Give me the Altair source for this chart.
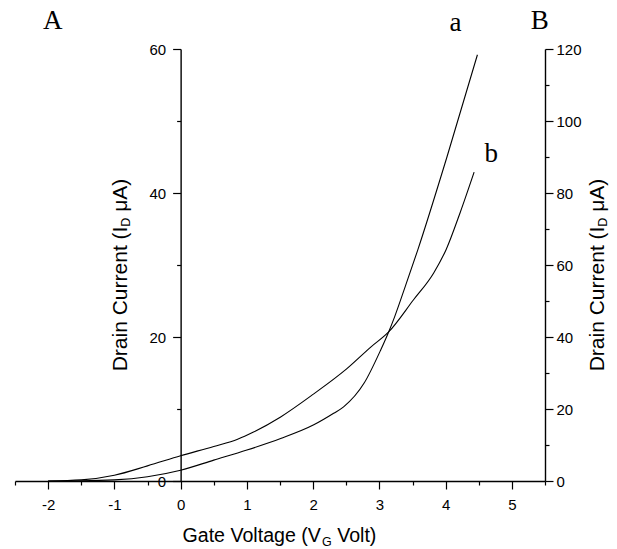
import altair as alt
import pandas as pd

# ---- data ----
xa = [-2.0, -1.5, -1.0, -0.5, 0.0, 0.5, 1.0, 1.51, 2.01, 2.31, 2.46, 2.77, 3.02, 3.14, 3.23, 3.39, 3.58, 4.02, 4.48]
ya = [0.0, 0.02, 0.15, 0.6, 1.5, 2.9, 4.3, 5.9, 7.8, 9.4, 10.3, 13.6, 18.2, 20.7, 22.8, 27.0, 32.1, 45.0, 59.2]
# curve b, in units of the right axis (B)
xb = [-2.0, -1.5, -1.0, -0.5, 0.0, 0.5, 0.86, 1.1, 1.51, 2.01, 2.51, 2.87, 3.14, 3.51, 3.82, 4.01, 4.22, 4.43]
yb = [0.0, 0.3, 1.6, 4.2, 7.0, 9.6, 11.6, 13.6, 17.8, 24.2, 31.2, 37.2, 41.4, 50.2, 57.8, 64.4, 74.6, 85.8]

x_ticks = [-2.5 + 0.5 * i for i in range(17)]
left_ticks = [0, 10, 20, 30, 40, 50, 60]
right_ticks = [0, 10, 20, 30, 40, 50, 60, 70, 80, 90, 100, 110, 120]

ann_text = ["A", "a", "B", "b"]
ann_x = [-1.93, 4.15, 5.42, 4.69]
ann_y = [62.8, 62.5, 62.8, 44.3]

x_title = ["Gate Voltage (V", "G", "Volt)"]
y_title = ["Drain Current (I", "D", "\u03bcA)"]

# ---- layout ----
W, H = 530, 432
XMIN, XMAX = -2.5, 5.5
FX, FY, F_SUB = 19.6, 21.0, 12.5
ARIAL = {'G': 778, 'a': 556, 't': 278, 'e': 556, ' ': 278, 'V': 667, 'o': 556, 'l': 222,
         'g': 556, '(': 333, ')': 333, 'D': 722, 'r': 333, 'i': 222, 'n': 556, 'C': 722,
         'u': 556, 'I': 278, '\u03bc': 576, 'A': 667}


def tw(s, size):
    return sum(ARIAL.get(c, 556) for c in s) * size / 1000.0


def txt(s, x, y, size, angle=0):
    return alt.Chart(pd.DataFrame({'d': [0]})).mark_text(
        text=s, font='Liberation Sans', fontSize=size, align='left',
        baseline='alphabetic', angle=angle, color='black'
    ).encode(x=alt.value(x), y=alt.value(y))


AX = dict(grid=False, title=None, domainColor='black', tickColor='black', labelColor='black',
          labelFont='Liberation Sans', labelFontSize=15, domainWidth=1.4, tickWidth=1.2)

x_axis = alt.Axis(values=x_ticks, orient='bottom', labelFlush=False, labelPadding=8,
                  tickSize={"condition": {"test": "datum.value % 1 === 0", "value": 8}, "value": 4},
                  labelExpr="datum.value % 1 === 0 ? '' + datum.value : ''", **AX)
left_axis = alt.Axis(values=left_ticks, orient='left', offset=-(0 - XMIN) / (XMAX - XMIN) * W,
                     labelPadding=7,
                     tickSize={"condition": {"test": "datum.value % 20 === 0", "value": 8}, "value": 4},
                     labelExpr="datum.value % 20 === 0 ? datum.label : ''", **AX)
right_axis = alt.Axis(values=right_ticks, orient='right', labelPadding=3,
                      tickSize={"condition": {"test": "datum.value % 20 === 0", "value": 8}, "value": 4},
                      labelExpr="datum.value % 20 === 0 ? datum.label : ''", **AX)

xs = alt.Scale(domain=[XMIN, XMAX], nice=False, zero=False)
ysl = alt.Scale(domain=[0, 60], nice=False)
ysr = alt.Scale(domain=[0, 120], nice=False)

df_a = pd.DataFrame({'x': xa, 'y': ya})
df_b = pd.DataFrame({'x': xb, 'y': yb})
df_ann = pd.DataFrame({'x': ann_x, 'y': ann_y, 't': ann_text})

line_a = alt.Chart(df_a).mark_line(color='black', strokeWidth=1.1, interpolate='monotone').encode(
    x=alt.X('x:Q', scale=xs, axis=x_axis),
    y=alt.Y('y:Q', scale=ysl, axis=left_axis))

ann = alt.Chart(df_ann).mark_text(font='Liberation Serif', fontSize=27, align='center',
                                  baseline='alphabetic', color='black').encode(
    x=alt.X('x:Q', scale=xs, axis=x_axis),
    y=alt.Y('y:Q', scale=ysl, axis=left_axis),
    text='t:N')

# axis titles with subscripts (leading spaces are added as offsets)
parts = []
w1 = tw(x_title[0], FX); w2 = tw(x_title[1], F_SUB); sp = tw(' ', FX); w3 = tw(x_title[2], FX)
x0 = 265 - (w1 + w2 + sp + w3) / 2; yb0 = 493
parts += [txt(x_title[0], x0, yb0, FX), txt(x_title[1], x0 + w1, yb0 + 4, F_SUB),
          txt(x_title[2], x0 + w1 + w2 + sp, yb0, FX)]

v1 = tw(y_title[0], FY); v2 = tw(y_title[1], F_SUB); spy = tw(' ', FY); v3 = tw(y_title[2], FY)
ystart = 226 + (v1 + v2 + spy + v3) / 2
for bx in (112, 589):
    parts += [txt(y_title[0], bx, ystart, FY, 270),
              txt(y_title[1], bx + 3, ystart - v1, F_SUB, 270),
              txt(y_title[2], bx, ystart - v1 - v2 - spy, FY, 270)]

left_group = alt.layer(line_a, ann, *parts)

line_b = alt.Chart(df_b).mark_line(color='black', strokeWidth=1.1, interpolate='monotone').encode(
    x=alt.X('x:Q', scale=xs, axis=x_axis),
    y=alt.Y('y:Q', scale=ysr, axis=right_axis))

chart = alt.layer(left_group, line_b).resolve_scale(y='independent').properties(
    width=W, height=H,
    autosize=alt.AutoSizeParams(type='none'),
    padding={"left": 7, "top": 41, "right": 64, "bottom": 68}
).configure_view(strokeWidth=0)

chart.save("out.html", embed_options={"renderer": "svg", "actions": False})
